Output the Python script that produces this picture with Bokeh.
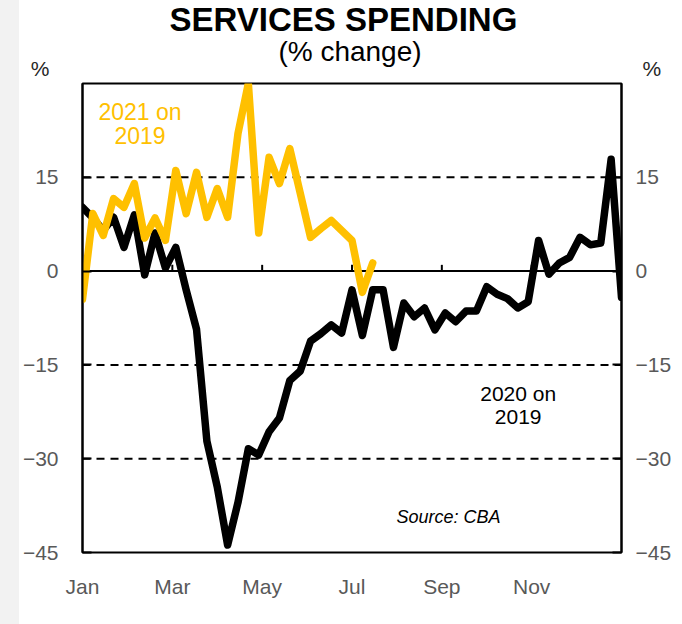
from bokeh.plotting import figure
from bokeh.models import Range1d, FixedTicker, LinearAxis, Span, Label, Spacer
from bokeh.layouts import row, column
from bokeh.core.properties import value
from bokeh.embed import file_html
from bokeh.resources import INLINE

# ---------------- data ----------------
month_labels = ["Jan", "Mar", "May", "Jul", "Sep", "Nov"]
month_ticks = [0, 2, 4, 6, 8, 10]          # months since start of year
y_ticks = [-45, -30, -15, 0, 15]
weeks_per_year = 52

weeks_2020 = list(range(53))
spend_2020 = [10.2, 8.5, 6.5, 8.6, 3.8, 9.0, -0.6, 6.1, 0.5, 3.8,
              -3.0, -9.3, -27.2, -34.5, -43.8, -37.0, -28.4, -29.4, -25.7, -23.5,
              -17.5, -16.0, -11.2, -10.0, -8.6, -9.9, -3.0, -10.3, -3.0, -3.0,
              -12.2, -5.1, -7.3, -5.9, -9.4, -6.7, -8.1, -6.4, -6.4, -2.5,
              -3.7, -4.4, -5.9, -4.9, 4.9, -0.5, 1.3, 2.2, 5.4, 4.2,
              4.5, 17.9, -4.2]

weeks_2021 = list(range(29))
spend_2021 = [-4.5, 9.2, 5.7, 11.6, 10.2, 14.0, 5.3, 8.5, 4.9, 16.1,
              9.2, 15.8, 8.6, 13.2, 8.6, 22.0, 30.0, 6.1, 18.2, 14.0,
              19.6, 12.5, 5.4, 6.8, 8.1, 6.5, 4.9, -3.4, 1.3]

x2020 = [w * 12 / weeks_per_year for w in weeks_2020]
x2021 = [w * 12 / weeks_per_year for w in weeks_2021]

FONT = "Liberation Sans"
GOLD = "#FFC000"
GREY = "#595959"
W = 663
BL, BR = 63, 61   # side borders shared by both figures

# ---------------- header (titles) ----------------
HH = 80
h = figure(width=W, height=HH, output_backend="svg", toolbar_location=None,
           x_range=Range1d(82.5, 621.5), y_range=Range1d(HH, 0),
           min_border_left=BL, min_border_right=BR, min_border_top=0, min_border_bottom=0,
           x_axis_type=None, y_axis_type=None)
h.outline_line_color = None
h.grid.visible = False
h.background_fill_color = "white"
h.border_fill_color = "white"

h.text(x=[348], y=[19], text=["SERVICES  SPENDING"], text_font=value(FONT),
       text_font_size="33px", text_font_style="bold", text_color="black",
       text_align="center", text_baseline="middle")
h.text(x=[350], y=[51], text=["(% change)"], text_font=value(FONT),
       text_font_size="28px", text_color="black",
       text_align="center", text_baseline="middle")

pct_pos = 68
def pct_axis(standoff):
    ax = LinearAxis(ticker=FixedTicker(ticks=[pct_pos]),
                    major_label_overrides={pct_pos: "%"})
    ax.axis_line_color = None
    ax.major_tick_line_color = None
    ax.minor_tick_line_color = None
    ax.major_tick_in = 0
    ax.major_tick_out = 0
    ax.major_label_text_font = FONT
    ax.major_label_text_font_size = "21px"
    ax.major_label_text_color = "#262626"
    ax.major_label_standoff = standoff
    return ax

h.add_layout(pct_axis(33), "left")
h.add_layout(pct_axis(21), "right")

# ---------------- main chart ----------------
p = figure(width=W, height=624 - HH, output_backend="svg", toolbar_location=None,
           x_range=Range1d(0, 12), y_range=Range1d(-45, 30),
           min_border_left=BL, min_border_right=BR, min_border_top=3, min_border_bottom=72)
p.background_fill_color = "white"
p.border_fill_color = "white"
p.outline_line_color = "black"
p.outline_line_width = 2
p.grid.visible = False

# x axis
xa = p.xaxis[0]
xa.ticker = FixedTicker(ticks=month_ticks)
xa.major_label_overrides = {t: l for t, l in zip(month_ticks, month_labels)}
xa.axis_line_color = None
xa.major_tick_line_color = None
xa.minor_tick_line_color = None
xa.major_label_text_font = FONT
xa.major_label_text_font_size = "21px"
xa.major_label_text_color = GREY
xa.major_label_standoff = 16

def style_y(ax, standoff):
    ax.ticker = FixedTicker(ticks=y_ticks)
    ax.axis_line_color = "black"
    ax.axis_line_width = 2
    ax.major_tick_in = 9
    ax.major_tick_out = 0
    ax.major_tick_line_width = 2
    ax.major_tick_line_color = "black"
    ax.minor_tick_line_color = None
    ax.major_label_text_font = FONT
    ax.major_label_text_font_size = "21px"
    ax.major_label_text_color = GREY
    ax.major_label_standoff = standoff

style_y(p.yaxis[0], 24)
ra = LinearAxis()
style_y(ra, 14)
p.add_layout(ra, "right")

# gridlines
for t in y_ticks:
    if t == 0:
        p.add_layout(Span(location=t, dimension="width", line_color="black",
                          line_width=2, level="underlay"))
    elif t != y_ticks[0]:
        p.add_layout(Span(location=t, dimension="width", line_color="black",
                          line_width=2, line_dash="8 6", level="underlay"))

# small tick marks on the zero line
p.segment(x0=month_ticks, y0=[0] * len(month_ticks), x1=month_ticks,
          y1=[1.0] * len(month_ticks), line_color="black", line_width=2)

# series
p.line(x2020, spend_2020, line_color="black", line_width=7.5,
       line_join="round", line_cap="round")
p.line(x2021, spend_2021, line_color=GOLD, line_width=7.5,
       line_join="round", line_cap="round")

def lab(x, y, text, size, color="black", style="normal", align="center"):
    p.add_layout(Label(x=x, y=y, text=text, text_font=FONT, text_font_size=size,
                       text_color=color, text_font_style=style,
                       text_align=align, text_baseline="middle"))

lab(1.28, 25.4, "2021 on", "23px", color=GOLD)
lab(1.28, 21.7, "2019", "23px", color=GOLD)
lab(9.7, -19.5, "2020 on", "21px")
lab(9.7, -23.3, "2019", "21px")
lab(6.99, -39.4, "Source:  CBA", "18px", style="italic", align="left")

strip = Spacer(width=19, height=624, styles={"background-color": "#f2f2f2"})
layout = row(strip, column(h, p))

open("out.html", "w").write(file_html(layout, INLINE))
